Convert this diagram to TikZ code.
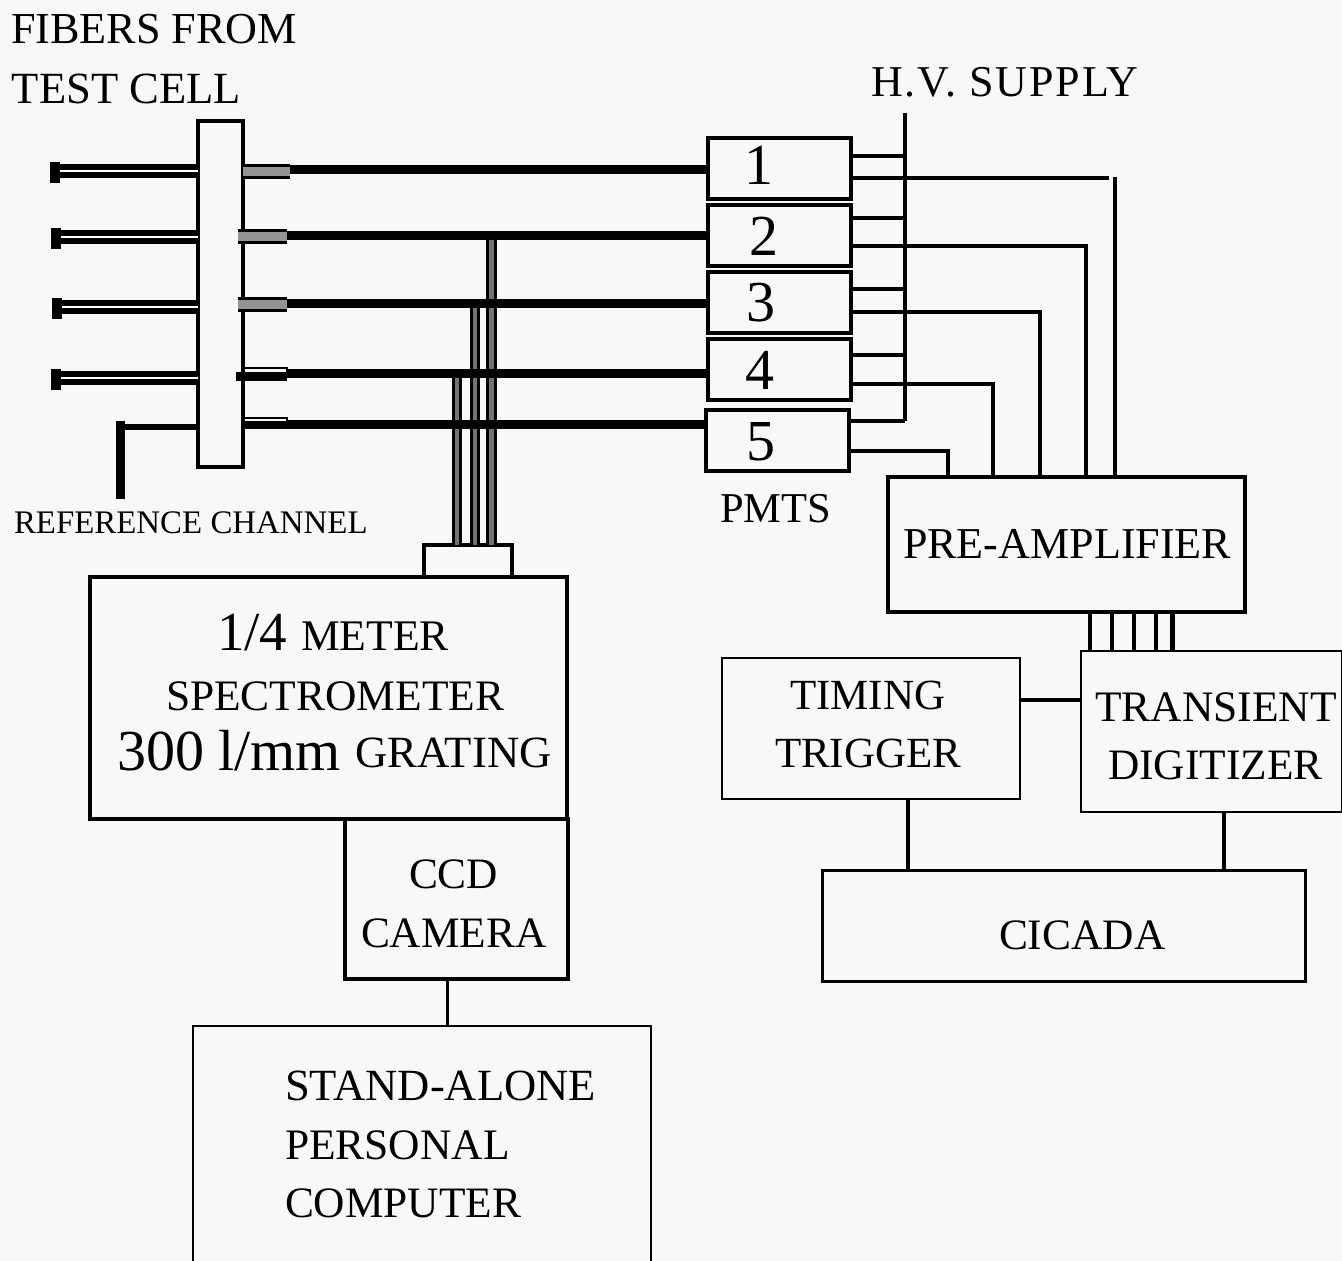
\documentclass[tikz,border=0pt]{standalone}
\usepackage{fontspec}
\setmainfont{Liberation Serif}
\newfontfamily\spaced[LetterSpace=4.3]{Liberation Serif}
\definecolor{bg}{HTML}{F8F8F8}
\tikzset{
  box/.style={draw=black,rectangle,inner sep=0pt,outer sep=0pt},
  lbl/.style={anchor=base west,inner sep=0pt,outer sep=0pt,text=black},
  wire/.style={draw=black,line width=3.5pt},
  thinwire/.style={draw=black,line width=3pt},
  bundle/.style={draw=black,line width=9pt},
  riser/.style={draw=black,line width=3pt,double=black!55,double distance=4.5pt},
  stub/.style={draw=black,line width=3pt,double=black!42,double distance=9pt},
  stubopen/.style={draw=black,line width=9pt},
  fiberL/.style={draw=black,line width=6pt,double=white,double distance=2pt},
  fcap/.style={fill=black,draw=none,rectangle,inner sep=0pt,outer sep=0pt,minimum width=10pt,minimum height=21pt}
}
\newcommand{\bx}[6]{%
  \pgfmathsetmacro{\bw}{#4-#2}\pgfmathsetmacro{\bh}{#5-#3}%
  \node[box,line width=#6pt,minimum width=\bw pt,minimum height=\bh pt] (#1) at ({(#2+#4)/2},{(#3+#5)/2}) {};}
\newcommand{\tx}[5]{\node[lbl,font=\fontsize{#4}{#4}\selectfont] (#1) at (#2,#3) {#5};}
\begin{document}
\begin{tikzpicture}[x=1pt,y=-1pt]
\useasboundingbox (0,0) rectangle (1342,1261);
\fill[bg] (0,0) rectangle (1342,1261);
% boxes
\bx{panel}{198}{121}{243}{467}{3.5}
\bx{p1}{708}{138}{851}{199}{4}
\bx{p2}{708}{205}{851}{266}{4}
\bx{p3}{708}{272}{851}{333}{4}
\bx{p4}{708}{339}{851}{400}{4}
\bx{p5}{706}{410}{849}{471}{4}
\bx{slit}{424}{545}{512}{577}{4}
\bx{spec}{90}{577}{567}{819}{4}
\bx{ccd}{345}{819}{568}{979}{4}
\bx{pc}{193}{1026}{651}{1290}{2.5}
\bx{pre}{888}{477}{1245}{612}{4}
\bx{dig}{1081}{651}{1342}{812}{2.5}
\bx{tim}{722}{658}{1020}{799}{2.5}
\bx{cic}{822}{870}{1305}{981}{3}
% coordinates
\coordinate (L1) at (60,171); \coordinate (L2) at (60,237); \coordinate (L3) at (62,307); \coordinate (L4) at (60,378);
\coordinate (R1) at (290,171); \coordinate (R2) at (287,236); \coordinate (R3) at (287,304); \coordinate (R4) at (287,376); \coordinate (R5) at (287,425);
\coordinate (S2) at (238,236); \coordinate (S3) at (238,304); \coordinate (S4) at (236,376);
\coordinate (m1) at (290,169); \coordinate (m2) at (287,235); \coordinate (m3) at (287,303); \coordinate (m4) at (287,373); \coordinate (m5) at (287,424);
\coordinate (v1) at (491.5,235); \coordinate (v2) at (475,303); \coordinate (v3) at (457,373);
\coordinate (ref) at (120,427); \coordinate (refend) at (120,499);
\coordinate (hvtop) at (905,113); \coordinate (hvbot) at (905,421);
\coordinate (h1) at (905,156); \coordinate (h2) at (905,218); \coordinate (h3) at (905,289); \coordinate (h4) at (905,355);
\coordinate (o1) at (1109,178); \coordinate (o1b) at (1115,177);
\coordinate (o2) at (1086,246); \coordinate (o3) at (1040,312); \coordinate (o4) at (993,384); \coordinate (o5) at (948,451);
\coordinate (q1) at (1090,620); \coordinate (q2) at (1112,620); \coordinate (q3) at (1134,620); \coordinate (q4) at (1156,620); \coordinate (q5) at (1172,620);
\coordinate (link) at (1020,700);
\coordinate (c1) at (908,799); \coordinate (c2) at (1224,812);
\coordinate (pcl) at (447,979);
% left fibres
\foreach \n in {1,2,3,4}{\draw[fiberL] (L\n) -- (panel.west |- L\n);}
\node[fcap] (cap1) at (55,172) {};
\node[fcap] (cap2) at (56,238) {};
\node[fcap] (cap3) at (57,308) {};
\node[fcap] (cap4) at (56,379) {};
% reference channel
\draw[draw=black,line width=6pt] (ref) -- (panel.west |- ref);
\draw[draw=black,line width=9pt] (120,421) -- (refend);
% risers to spectrometer
\draw[riser] (v1) -- (v1 |- slit.north);
\draw[riser] (v2) -- (v2 |- slit.north);
\draw[riser] (v3) -- (v3 |- slit.north);
% main bundles
\draw[bundle] (m1) -- (p1.west |- m1);
\draw[bundle] (m2) -- (p2.west |- m2);
\draw[bundle] (m3) -- (p3.west |- m3);
\draw[bundle] (m4) -- (p4.west |- m4);
\draw[bundle] (m5) -- (p5.west |- m5);
% right stubs
\draw[stub] (panel.east |- R1) -- (R1);
\draw[stub] (S2) -- (R2);
\draw[stub] (S3) -- (R3);
\draw[stubopen] (S4) -- (R4);
\draw[draw=black,line width=2pt] (245,367.5) -- (287,367.5) -- (287,376);
\draw[draw=black,line width=2pt] (245,417.5) -- (287,417.5) -- (287,425);
\draw[draw=black,line width=8pt] (panel.east |- R5) -- (R5);
% HV
\draw[wire] (hvtop) -- (hvbot);
\draw[wire] (p1.east |- h1) -- (h1);
\draw[wire] (p2.east |- h2) -- (h2);
\draw[wire] (p3.east |- h3) -- (h3);
\draw[wire] (p4.east |- h4) -- (h4);
\draw[wire] (p5.east |- hvbot) -- (hvbot);
% outputs
\draw[wire,line width=4.5pt] (p1.east |- o1) -- (o1);
\draw[wire] (o1b) -- (o1b |- pre.north);
\draw[wire] (p2.east |- o2) -- (o2) -- (o2 |- pre.north);
\draw[wire] (p3.east |- o3) -- (o3) -- (o3 |- pre.north);
\draw[wire] (p4.east |- o4) -- (o4) -- (o4 |- pre.north);
\draw[wire] (p5.east |- o5) -- (o5) -- (o5 |- pre.north);
% preamp to digitizer
\foreach \n in {1,2,3,4}{\draw[wire] (q\n |- pre.south) -- (q\n |- dig.north);}
\draw[wire,line width=5pt] (q5 |- pre.south) -- (q5 |- dig.north);
\draw[wire] (tim.east |- link) -- (dig.west |- link);
\draw[wire] (c1) -- (c1 |- cic.north);
\draw[wire] (c2) -- (c2 |- cic.north);
\draw[thinwire] (pcl) -- (pcl |- pc.north);
% labels
\tx{t1}{11}{43}{44.2}{FIBERS FROM}
\tx{t2}{12}{103}{44.6}{TEST CELL}
\node[lbl,font=\spaced\fontsize{44}{44}\selectfont] (t3) at (871,96) {H.V.\ SUPPLY};
\tx{t4}{14}{533}{32.9}{REFERENCE CHANNEL}
\tx{t5}{720}{522}{42.5}{PMTS}
\tx{n1}{744}{184}{58}{1}
\tx{n2}{749}{255}{58}{2}
\tx{n3}{746}{321}{58}{3}
\tx{n4}{745}{389}{58}{4}
\tx{n5}{746}{460}{58}{5}
\tx{t6}{903}{558}{44.1}{PRE-AMPLIFIER}
\node[lbl] (t7) at (217,650) {\fontsize{55}{55}\selectfont 1/4 \fontsize{43.7}{43.7}\selectfont METER};
\tx{t8}{166}{710}{43.5}{SPECTROMETER}
\node[lbl] (t9) at (117,770) {\fontsize{58}{58}\selectfont 300 l/mm \raisebox{3pt}{\fontsize{44.7}{44.7}\selectfont GRATING}};
\tx{t10}{409}{888}{43.4}{CCD}
\tx{t11}{361}{947}{43.4}{CAMERA}
\tx{t12}{285}{1100}{44.6}{STAND-ALONE}
\tx{t13}{285}{1159}{43.5}{PERSONAL}
\tx{t14}{285}{1217}{43.4}{COMPUTER}
\tx{t15}{790}{709}{43}{TIMING}
\tx{t16}{775}{767}{43}{TRIGGER}
\tx{t17}{1095}{721}{43.5}{TRANSIENT}
\tx{t18}{1108}{779}{43.4}{DIGITIZER}
\tx{t19}{999}{949}{43.4}{CICADA}
\end{tikzpicture}
\end{document}
